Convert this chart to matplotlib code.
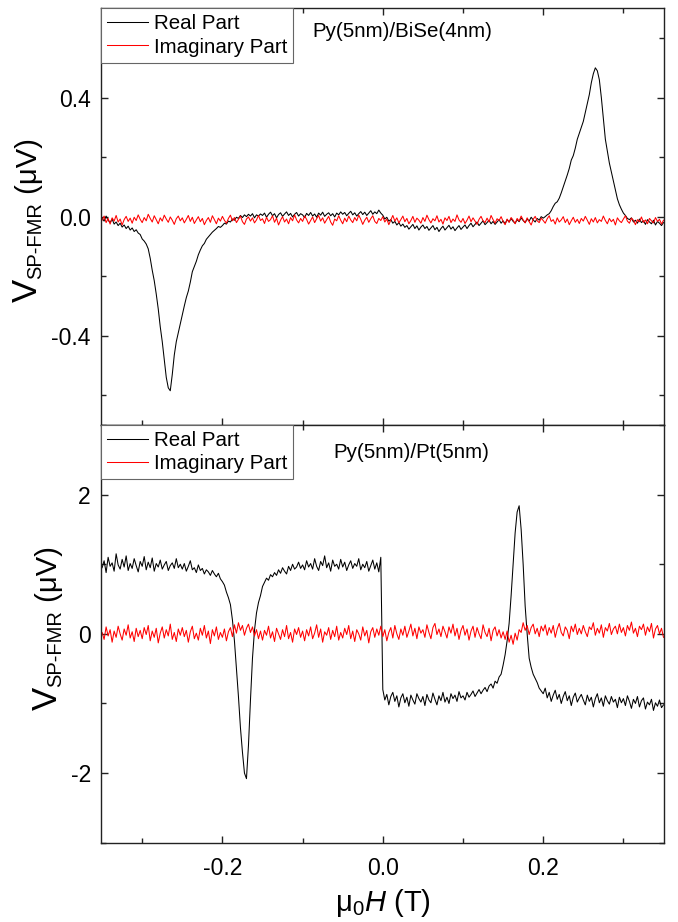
import numpy as np
import matplotlib
matplotlib.use("Agg")
import matplotlib.pyplot as plt
from matplotlib.ticker import MultipleLocator, FormatStrFormatter

plt.rcParams['font.family'] = ['Liberation Sans', 'DejaVu Sans']
plt.rcParams['mathtext.fontset'] = 'custom'
plt.rcParams['mathtext.rm'] = 'Liberation Sans'
plt.rcParams['mathtext.it'] = 'Liberation Sans:italic'
plt.rcParams['axes.unicode_minus'] = False

# ---------------- data ----------------
# magnetic field sweep (T), 281 points, step 0.0025 T
field = np.round(np.arange(281) * 0.0025 - 0.35, 4)

# Py(5nm)/BiSe(4nm)  (uV)
bise_real = [
    -0.005, -0.015, 0.002, -0.012, -0.020, -0.008, -0.025, -0.018, -0.030, -0.022,
    -0.035, -0.028, -0.040, -0.032, -0.045, -0.038, -0.050, -0.044, -0.055, -0.060,
    -0.075, -0.082, -0.092, -0.108, -0.140, -0.180, -0.215, -0.260, -0.310, -0.370,
    -0.420, -0.480, -0.540, -0.575, -0.585, -0.530, -0.465, -0.420, -0.390, -0.360,
    -0.330, -0.300, -0.272, -0.250, -0.220, -0.185, -0.168, -0.150, -0.128, -0.112,
    -0.098, -0.090, -0.076, -0.068, -0.060, -0.052, -0.046, -0.040, -0.033, -0.036,
    -0.030, -0.022, -0.025, -0.015, -0.018, -0.008, -0.012, -0.002, -0.006, 0.004,
    -0.003, 0.006, 0.000, 0.008, 0.002, 0.010, -0.004, 0.006, 0.002, 0.009,
    0.004, 0.012, -0.002, 0.008, 0.015, 0.003, 0.010, -0.004, 0.007, 0.013,
    0.001, 0.009, 0.016, 0.004, 0.011, -0.001, 0.008, 0.014, 0.002, 0.010,
    0.006, -0.003, 0.011, 0.004, 0.014, 0.002, 0.009, -0.002, 0.012, 0.005,
    0.015, 0.001, 0.008, 0.013, 0.003, 0.010, -0.001, 0.012, 0.006, 0.016,
    0.008, 0.014, 0.003, 0.011, 0.018, 0.006, 0.013, 0.002, 0.010, 0.017,
    0.007, 0.015, 0.004, 0.012, 0.020, 0.008, 0.016, 0.010, 0.022, 0.012,
    0.005, -0.008, -0.002, -0.015, -0.010, -0.022, -0.016, -0.028, -0.020, -0.032,
    -0.025, -0.036, -0.030, -0.042, -0.034, -0.026, -0.040, -0.031, -0.045, -0.035,
    -0.028, -0.040, -0.033, -0.046, -0.038, -0.030, -0.044, -0.036, -0.050, -0.040,
    -0.032, -0.045, -0.037, -0.029, -0.042, -0.034, -0.047, -0.038, -0.030, -0.043,
    -0.035, -0.028, -0.040, -0.030, -0.022, -0.034, -0.026, -0.018, -0.030, -0.022,
    -0.014, -0.027, -0.020, -0.012, -0.024, -0.016, -0.026, -0.018, -0.010, -0.022,
    -0.014, -0.024, -0.010, -0.018, -0.006, -0.016, -0.022, -0.010, -0.017, -0.004,
    -0.013, -0.020, -0.008, -0.015, -0.002, -0.011, -0.018, -0.006, -0.012, 0.000,
    -0.005, 0.000, 0.006, 0.010, 0.020, 0.034, 0.045, 0.050, 0.062, 0.080,
    0.100, 0.120, 0.140, 0.162, 0.190, 0.205, 0.230, 0.260, 0.280, 0.300,
    0.320, 0.350, 0.380, 0.410, 0.450, 0.480, 0.500, 0.490, 0.460, 0.400,
    0.330, 0.260, 0.220, 0.180, 0.150, 0.120, 0.090, 0.060, 0.040, 0.025,
    0.012, 0.004, -0.006, -0.010, -0.004, -0.018, -0.012, -0.022, -0.008, -0.020,
    -0.014, -0.026, -0.010, -0.018, -0.024, -0.012, -0.028, -0.016, -0.022, -0.030,
    -0.020,
]
bise_imag = [
    -0.012, 0.002, -0.020, -0.006, -0.025, -0.004, -0.015, 0.004, -0.018, -0.008,
    -0.028, -0.010, 0.001, -0.016, -0.005, -0.022, -0.002, -0.013, 0.006, -0.009,
    -0.020, -0.003, -0.014, 0.008, -0.006, -0.018, 0.003, -0.010, -0.024, -0.004,
    -0.015, 0.005, -0.008, -0.019, -0.001, -0.012, -0.026, -0.007, 0.002, -0.014,
    -0.004, -0.021, -0.009, 0.004, -0.016, -0.002, -0.023, -0.011, 0.000, -0.017,
    -0.006, -0.027, -0.013, -0.003, -0.019, 0.003, -0.010, -0.024, -0.005, -0.015,
    0.001, -0.012, -0.022, -0.006, 0.005, -0.014, -0.003, -0.020, -0.009, 0.002,
    -0.017, -0.026, -0.008, -0.001, -0.015, -0.004, -0.021, -0.011, 0.004, -0.013,
    -0.007, -0.023, -0.002, -0.016, -0.010, 0.003, -0.019, -0.005, -0.028, -0.012,
    0.000, -0.018, -0.008, -0.024, -0.003, -0.014, 0.006, -0.011, -0.021, -0.006,
    -0.016, 0.002, -0.009, -0.025, -0.013, -0.001, -0.020, -0.007, 0.004, -0.015,
    -0.004, -0.022, -0.010, 0.001, -0.018, -0.029, -0.008, -0.014, 0.003, -0.012,
    -0.024, -0.005, -0.017, 0.002, -0.011, -0.020, -0.003, -0.014, 0.005, -0.009,
    -0.026, -0.012, -0.002, -0.019, -0.007, 0.003, -0.016, -0.023, -0.006, -0.013,
    0.000, -0.018, -0.008, -0.027, -0.011, 0.004, -0.015, -0.004, -0.021, -0.010,
    0.002, -0.017, -0.006, -0.024, -0.013, 0.001, -0.019, -0.005, -0.012, -0.022,
    -0.003, -0.016, 0.005, -0.010, -0.021, -0.007, -0.014, 0.003, -0.018, -0.009,
    -0.025, -0.004, -0.013, 0.001, -0.020, -0.008, -0.016, 0.006, -0.011, -0.019,
    -0.006, -0.023, -0.012, 0.002, -0.017, -0.004, -0.015, -0.026, -0.009, 0.001,
    -0.014, -0.020, -0.005, -0.018, 0.004, -0.010, -0.022, -0.007, -0.013, 0.000,
    -0.016, -0.027, -0.008, -0.019, -0.003, -0.012, -0.024, -0.006, -0.015, 0.002,
    -0.011, -0.021, -0.004, -0.017, -0.028, -0.009, 0.001, -0.014, -0.020, -0.005,
    -0.013, -0.022, -0.007, 0.003, -0.016, -0.010, -0.025, -0.004, -0.018, -0.011,
    0.000, -0.020, -0.008, -0.027, -0.014, -0.002, -0.019, -0.009, -0.023, -0.006,
    -0.015, 0.001, -0.012, -0.026, -0.007, -0.018, -0.003, -0.021, -0.010, -0.016,
    0.002, -0.013, -0.024, -0.006, -0.017, -0.009, -0.028, -0.004, -0.014, -0.020,
    -0.008, 0.003, -0.015, -0.022, -0.005, -0.012, -0.027, -0.010, -0.017, -0.001,
    -0.019, -0.011, -0.024, -0.006, -0.014, -0.021, -0.003, -0.016, -0.009, -0.025,
    -0.012,
]

# Py(5nm)/Pt(5nm)  (uV)
pt_real = [
    0.95, 1.05, 0.88, 1.10, 0.97, 1.02, 0.90, 1.15, 0.99, 0.93,
    1.07, 0.96, 1.12, 0.91, 1.01, 0.94, 1.08, 0.98, 0.89, 1.04,
    0.97, 1.11, 0.92, 1.03, 0.95, 1.09, 0.90, 1.01, 0.96, 1.06,
    0.93, 0.99, 1.04, 0.91, 0.98, 1.02, 0.94, 1.08, 0.95, 1.00,
    0.93, 1.01, 0.90, 0.97, 1.05, 0.92, 0.95, 0.88, 0.99, 0.91,
    0.94, 0.86, 0.92, 0.89, 0.84, 0.91, 0.86, 0.82, 0.87, 0.79,
    0.75, 0.70, 0.60, 0.52, 0.42, 0.20, -0.10, -0.50, -0.90, -1.35,
    -1.70, -2.00, -2.08, -1.60, -0.95, -0.35, 0.05, 0.30, 0.45, 0.55,
    0.68, 0.74, 0.80, 0.77, 0.85, 0.82, 0.88, 0.84, 0.92, 0.87,
    0.95, 0.90, 0.86, 0.97, 0.91, 1.00, 0.93, 0.96, 1.03, 0.94,
    0.99, 0.92, 1.05, 0.96, 1.01, 0.93, 1.08, 0.97, 0.91, 1.04,
    0.98, 1.12, 0.95, 1.02, 0.90, 1.06, 0.97, 1.00, 0.93, 1.07,
    0.96, 1.03, 0.91, 0.99, 1.05, 0.94, 1.01, 0.97, 1.08, 0.92,
    1.00, 0.95, 1.04, 0.90, 0.98, 1.06, 0.93, 1.02, 0.89, 1.10,
    -0.80, -0.95, -0.87, -1.02, -0.90, -0.84, -0.97, -0.89, -1.05, -0.92,
    -0.86, -0.99, -0.91, -1.04, -0.88, -0.95, -1.01, -0.86, -0.93, -0.98,
    -0.90, -1.03, -0.87, -0.95, -0.99, -0.85, -0.94, -1.02, -0.89, -0.96,
    -0.84, -0.98, -0.91, -1.00, -0.86, -0.93, -0.88, -0.97, -0.83, -0.92,
    -0.89, -0.95, -0.84, -0.91, -0.87, -0.82, -0.90, -0.85, -0.80, -0.86,
    -0.81, -0.77, -0.83, -0.75, -0.72, -0.78, -0.68, -0.71, -0.62, -0.58,
    -0.45, -0.30, -0.10, 0.15, 0.55, 1.00, 1.45, 1.75, 1.84, 1.50,
    1.00, 0.40, 0.00, -0.35, -0.48, -0.58, -0.64, -0.70, -0.78, -0.82,
    -0.86, -0.78, -0.92, -0.84, -0.97, -0.88, -0.81, -0.94, -0.87, -1.00,
    -0.90, -0.83, -0.96, -0.89, -1.03, -0.91, -0.85, -0.98, -0.92, -0.87,
    -0.95, -1.02, -0.88, -0.97, -0.91, -1.05, -0.93, -0.86, -0.99, -0.92,
    -1.04, -0.89, -0.96, -1.01, -0.90, -0.98, -0.94, -1.06, -0.91, -0.99,
    -0.93, -1.03, -0.89, -0.97, -1.07, -0.94, -1.00, -0.90, -1.05, -0.96,
    -0.92, -1.08, -0.98, -1.02, -0.94, -1.10, -0.99, -1.04, -0.95, -1.06,
    -1.02,
]
pt_imag = [
    0.02, -0.08, 0.10, -0.03, 0.06, -0.12, 0.04, -0.05, 0.11, 0.00,
    -0.09, 0.07, -0.02, 0.13, -0.06, 0.03, -0.11, 0.08, -0.04, 0.05,
    -0.07, 0.09, -0.01, 0.12, -0.10, 0.04, -0.05, 0.08, -0.13, 0.01,
    0.10, -0.06, 0.06, -0.03, 0.14, -0.08, 0.02, -0.11, 0.07, -0.02,
    0.09, -0.04, 0.05, -0.12, 0.03, 0.11, -0.07, 0.01, -0.09, 0.08,
    -0.02, 0.12, -0.06, 0.04, -0.14, 0.06, -0.03, 0.10, -0.08, 0.02,
    -0.05, 0.07, -0.10, 0.03, 0.09, -0.04, 0.13, 0.01, 0.16, 0.05,
    0.12, -0.02, 0.08, 0.14, 0.02, 0.10, -0.03, 0.06, -0.07, 0.04,
    -0.09, 0.05, -0.02, 0.11, -0.06, 0.03, -0.11, 0.08, 0.00, -0.08,
    0.06, -0.04, 0.12, -0.07, 0.02, -0.12, 0.07, -0.01, 0.09, -0.05,
    0.04, -0.10, 0.06, -0.03, 0.10, -0.07, 0.01, 0.13, -0.05, 0.07,
    -0.12, 0.03, -0.02, 0.09, -0.08, 0.05, -0.04, 0.11, -0.09, 0.02,
    -0.06, 0.08, -0.01, 0.12, -0.07, 0.04, -0.11, 0.06, 0.00, -0.09,
    0.10, -0.03, 0.05, -0.13, 0.03, 0.09, -0.05, 0.07, -0.02, 0.11,
    -0.04, 0.06, -0.10, 0.02, 0.09, -0.06, 0.12, 0.00, -0.08, 0.07,
    -0.02, 0.11, -0.05, 0.04, 0.14, -0.03, 0.08, -0.07, 0.10, 0.01,
    0.06, -0.05, 0.13, 0.02, -0.07, 0.09, 0.15, -0.01, 0.07, -0.04,
    0.11, 0.03, -0.06, 0.10, 0.01, 0.14, -0.03, 0.08, -0.08, 0.05,
    0.12, -0.02, 0.07, -0.09, 0.04, 0.11, -0.05, 0.09, 0.00, -0.07,
    0.13, 0.02, -0.04, 0.08, -0.10, 0.05, 0.10, -0.03, 0.06, -0.06,
    0.03, -0.08, 0.04, -0.12, -0.02, -0.15, 0.01, -0.09, 0.06, 0.02,
    0.16, 0.05, 0.12, -0.01, 0.09, 0.14, 0.00, 0.08, -0.04, 0.11,
    0.04, 0.13, -0.02, 0.09, 0.01, 0.12, -0.05, 0.07, 0.15, 0.02,
    -0.03, 0.10, 0.05, -0.07, 0.11, 0.03, 0.14, -0.01, 0.08, 0.00,
    0.12, 0.03, -0.04, 0.10, 0.06, 0.16, -0.02, 0.08, 0.01, 0.13,
    -0.05, 0.09, 0.04, 0.15, -0.01, 0.07, 0.11, 0.00, 0.14, 0.02,
    0.09, -0.03, 0.12, 0.05, 0.17, 0.01, 0.08, -0.04, 0.11, 0.06,
    0.14, -0.02, 0.10, 0.03, 0.15, -0.06, 0.07, 0.12, 0.00, 0.08,
    -0.05,
]

series_labels = ["Real Part", "Imaginary Part"]
sample_labels = ["Py(5nm)/BiSe(4nm)", "Py(5nm)/Pt(5nm)"]
x_ticks = [-0.2, 0.0, 0.2]
top_yticks = [-0.4, 0.0, 0.4]
bot_yticks = [-2, 0, 2]

# ---------------- figure ----------------
W, H = 678, 922
fig = plt.figure(figsize=(W / 100, H / 100), dpi=100)

def px_axes(l, t, r, b):
    return fig.add_axes([l / W, 1 - b / H, (r - l) / W, (b - t) / H])

ax1 = px_axes(100.5, 8.3, 663.5, 425.0)
ax2 = px_axes(100.5, 425.0, 663.5, 842.7)

spine_col = '#222222'
for ax in (ax1, ax2):
    ax.set_xlim(-0.352, 0.350)
    ax.xaxis.set_major_locator(MultipleLocator(0.2))
    ax.xaxis.set_minor_locator(MultipleLocator(0.1))
    ax.xaxis.set_major_formatter(FormatStrFormatter('%.1f'))
    for s in ax.spines.values():
        s.set_linewidth(1.0)
        s.set_color(spine_col)
    ax.tick_params(which='both', direction='in', top=True, right=True,
                   color=spine_col, width=1.0, labelsize=16.5)
    ax.tick_params(which='major', length=5)
    ax.tick_params(which='minor', length=3.5)
    ax.tick_params(axis='x', pad=10.5)
    ax.tick_params(axis='y', pad=7)

ax1.set_ylim(-0.70, 0.70)
ax1.set_yticks(top_yticks)
ax1.yaxis.set_minor_locator(MultipleLocator(0.2))
ax1.yaxis.set_major_formatter(FormatStrFormatter('%.1f'))
ax1.tick_params(axis='x', labelbottom=False)

ax2.set_ylim(-3, 3)
ax2.set_yticks(bot_yticks)
ax2.yaxis.set_minor_locator(MultipleLocator(1))
ax2.yaxis.set_major_formatter(FormatStrFormatter('%d'))
ax2.set_xticks(x_ticks)

lw = 0.75
ax1.plot(field, bise_real, color='black', lw=lw, label=series_labels[0])
ax1.plot(field, bise_imag, color='#ff0000', lw=lw, label=series_labels[1])
ax2.plot(field, pt_real, color='black', lw=lw, label=series_labels[0])
ax2.plot(field, pt_imag, color='#ff0000', lw=lw, label=series_labels[1])

for ax in (ax1, ax2):
    leg = ax.legend(loc='upper left', borderaxespad=0, fontsize=14.8,
                    fancybox=False, framealpha=1, edgecolor='#666666',
                    borderpad=0.3, handlelength=2.0, handletextpad=0.3,
                    labelspacing=0.2)
    leg.get_frame().set_linewidth(0.8)

ax1.text((312 - 100.5) / 563, (425 - 32) / 416.7, sample_labels[0],
         transform=ax1.transAxes, fontsize=14.8, ha='left', va='center')
ax2.text((333 - 100.5) / 563, (842.7 - 453) / 417.7, sample_labels[1],
         transform=ax2.transAxes, fontsize=14.8, ha='left', va='center')

# x label
fig.text(383 / W, 1 - 911 / H, r'$\mathregular{\mu}_{\mathregular{0}}\mathit{H}$ (T)',
         fontsize=21, ha='center', va='baseline')

# y labels (V large, subscript small, unit)
renderer = fig.canvas.get_renderer()

def text_width(s, fs):
    t = fig.text(0, 0, s, fontsize=fs)
    w = t.get_window_extent(renderer).width
    t.remove()
    return w

def ylabel(x_base, y_start):
    parts = [("V", 25, 0), ("SP-FMR", 14.5, 4), (" (μV)", 21, 0)]
    y = y_start
    for s, fs, dx in parts:
        fig.text((x_base + dx) / W, 1 - y / H, s, fontsize=fs, rotation=90,
                 rotation_mode='anchor', ha='left', va='baseline')
        y -= text_width(s, fs)

ylabel(37, 302)
ylabel(57, 710)

fig.savefig('out.png', dpi=100)
